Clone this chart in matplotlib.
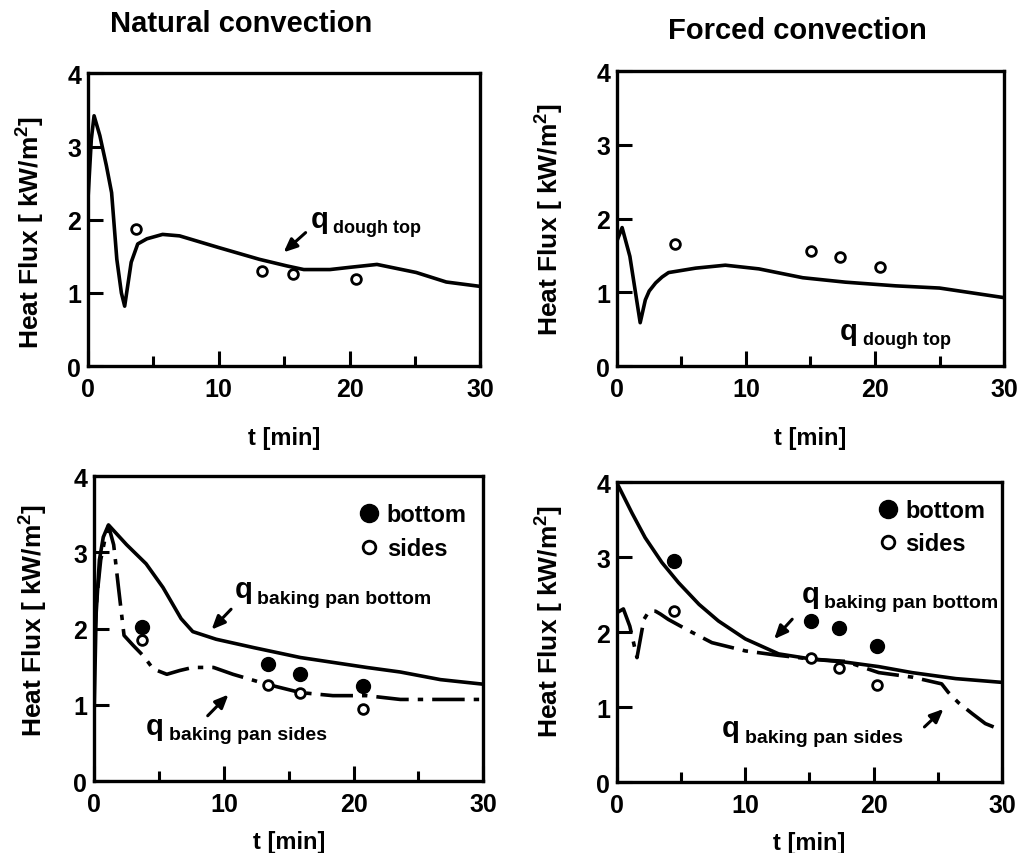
import matplotlib
matplotlib.use("Agg")
import matplotlib.pyplot as plt
from matplotlib.ticker import MultipleLocator

plt.rcParams['font.family'] = ['Liberation Sans', 'DejaVu Sans']
plt.rcParams['font.weight'] = 'bold'
plt.rcParams['mathtext.fontset'] = 'custom'
plt.rcParams['mathtext.bf'] = 'Liberation Sans:bold'
plt.rcParams['mathtext.rm'] = 'Liberation Sans:bold'

# ---- data ----
# Natural convection, dough top
t_nat_top = [0, 0.25, 0.46, 0.9, 1.4, 1.8, 2.2, 2.55, 2.8, 3.3, 3.8, 4.5, 5.7, 7.0, 10, 13.1, 15.2, 16.5, 18.5, 20, 22.1, 25.1, 27.4, 30]
q_nat_top = [2.3, 3.1, 3.42, 3.15, 2.74, 2.37, 1.46, 1.0, 0.82, 1.42, 1.67, 1.74, 1.80, 1.78, 1.62, 1.46, 1.37, 1.32, 1.32, 1.35, 1.39, 1.28, 1.15, 1.09]
t_nat_top_meas = [3.7, 13.3, 15.7, 20.5]
q_nat_top_meas = [1.87, 1.30, 1.26, 1.19]

# Forced convection, dough top
t_for_top = [0, 0.4, 1.0, 1.8, 2.2, 2.5, 3.0, 3.5, 4.0, 6.1, 8.4, 11, 14.4, 17.7, 21.6, 25, 30]
q_for_top = [1.70, 1.88, 1.49, 0.59, 0.90, 1.02, 1.13, 1.21, 1.27, 1.33, 1.37, 1.32, 1.20, 1.14, 1.09, 1.06, 0.93]
t_for_top_meas = [4.5, 15.05, 17.25, 20.4]
q_for_top_meas = [1.66, 1.56, 1.48, 1.35]

# Natural convection, baking pan
t_nat_bot = [0, 0.15, 0.4, 0.7, 1.1, 2.5, 4.0, 5.3, 6.7, 7.6, 9.4, 12.3, 15.9, 21, 23.6, 26.7, 30]
q_nat_bot = [0.95, 2.2, 2.9, 3.2, 3.36, 3.1, 2.85, 2.54, 2.13, 1.96, 1.86, 1.75, 1.62, 1.49, 1.43, 1.33, 1.27]
t_nat_side = [0, 0.2, 0.5, 0.8, 1.1, 1.5, 1.85, 2.3, 3.0, 3.8, 4.55, 5.6, 6.6, 7.6, 9.2, 10.7, 13.3, 15.9, 18.4, 21, 23.6, 30]
q_nat_side = [1.8, 2.4, 2.9, 3.15, 3.35, 3.1, 2.57, 1.91, 1.78, 1.64, 1.47, 1.40, 1.45, 1.49, 1.49, 1.40, 1.27, 1.16, 1.12, 1.12, 1.07, 1.07]
t_nat_meas = [3.65, 13.4, 15.9, 20.7]
q_nat_bot_meas = [2.02, 1.54, 1.41, 1.25]
q_nat_side_meas = [1.85, 1.26, 1.16, 0.95]

# Forced convection, baking pan
t_for_bot = [0, 1.17, 2.2, 3.5, 4.8, 6.4, 7.9, 10, 12.6, 15.2, 17.8, 20.4, 23, 26.4, 30]
q_for_bot = [3.99, 3.59, 3.26, 2.93, 2.66, 2.37, 2.15, 1.91, 1.71, 1.64, 1.60, 1.54, 1.46, 1.38, 1.33]
t_for_side = [0, 0.5, 1.0, 1.56, 2.1, 2.5, 3.0, 3.4, 4.0, 5.6, 7.4, 10, 12.6, 15.2, 17.8, 20.4, 23, 25.3, 25.8, 26.6, 27.7, 28.7, 30]
q_for_side = [2.26, 2.31, 2.08, 1.66, 2.17, 2.28, 2.28, 2.24, 2.17, 2.02, 1.86, 1.75, 1.69, 1.64, 1.61, 1.46, 1.40, 1.31, 1.20, 1.06, 0.91, 0.78, 0.69]
t_for_meas = [4.47, 15.1, 17.3, 20.3]
q_for_bot_meas = [2.95, 2.15, 2.06, 1.81]
q_for_side_meas = [2.28, 1.65, 1.52, 1.29]

x_ticks = [0, 10, 20, 30]
y_ticks = [0, 1, 2, 3, 4]
titles = ["Natural convection", "Forced convection"]
ylabel = r"Heat Flux [ kW/m$^\mathbf{2}$]"
xlabel = "t [min]"

DASHDOT = (0, (9, 2.5, 1.5, 2.5))
LW = 2.6

fig = plt.figure(figsize=(10.24, 8.54), dpi=100)
ax_tl = fig.add_axes([0.086, 0.570, 0.383, 0.343])
ax_tr = fig.add_axes([0.6025, 0.570, 0.378, 0.3454])
ax_bl = fig.add_axes([0.092, 0.0843, 0.380, 0.357])
ax_br = fig.add_axes([0.6025, 0.0831, 0.376, 0.351])


def style(ax, ylab_xy, xlab_pad):
    ax.set_xlim(0, 30)
    ax.set_ylim(0, 4)
    ax.set_xticks(x_ticks)
    ax.set_yticks(y_ticks)
    ax.xaxis.set_minor_locator(MultipleLocator(5))
    ax.tick_params(axis='both', which='major', direction='in', length=11, width=2.2,
                   labelsize=18, top=False, right=False)
    ax.tick_params(axis='x', which='major', pad=8)
    ax.tick_params(axis='y', which='major', pad=5)
    ax.tick_params(axis='x', which='minor', direction='in', length=7, width=2.2, top=False)
    for lab in ax.get_xticklabels() + ax.get_yticklabels():
        lab.set_fontweight('bold')
    for s in ax.spines.values():
        s.set_linewidth(2.4)
    ax.set_xlabel(xlabel, fontsize=17, fontweight='bold', labelpad=xlab_pad)
    ax.set_ylabel(ylabel, fontsize=19, fontweight='bold', va='center')
    ax.yaxis.set_label_coords(*ylab_xy)


def qlabel(ax, x, y, sub, subsize):
    ax.text(x, y, "q", fontsize=21, fontweight='bold', ha='left', va='baseline')
    ax.text(x + 1.75, y - 0.07, sub, fontsize=subsize, fontweight='bold', ha='left', va='baseline')


def arrow(ax, xy_tail, xy_head):
    ax.annotate("", xy=xy_head, xytext=xy_tail,
                arrowprops=dict(arrowstyle='-|>,head_length=0.8,head_width=0.35',
                                lw=2.2, color='black'))


open_kw = dict(marker='o', ms=7, mfc='white', mec='black', mew=2.0, ls='none')
fill_kw = dict(marker='o', ms=10, mfc='black', mec='black', ls='none')

# Top left
style(ax_tl, (-0.148, 0.46), 18)
ax_tl.plot(t_nat_top, q_nat_top, color='black', lw=LW)
ax_tl.plot(t_nat_top_meas, q_nat_top_meas, **open_kw)
qlabel(ax_tl, 17.0, 1.90, "dough top", 13)
arrow(ax_tl, (16.8, 1.85), (14.8, 1.53))

# Top right
style(ax_tr, (-0.176, 0.50), 18)
ax_tr.plot(t_for_top, q_for_top, color='black', lw=LW)
ax_tr.plot(t_for_top_meas, q_for_top_meas, **open_kw)
qlabel(ax_tr, 17.3, 0.37, "dough top", 13)

# Bottom left
style(ax_bl, (-0.159, 0.53), 10)
ax_bl.plot(t_nat_bot, q_nat_bot, color='black', lw=LW)
ax_bl.plot(t_nat_side, q_nat_side, color='black', lw=LW, ls=DASHDOT)
ax_bl.plot(t_nat_meas, q_nat_bot_meas, label='bottom', **fill_kw)
ax_bl.plot(t_nat_meas, q_nat_side_meas, label='sides', **open_kw)
qlabel(ax_bl, 10.8, 2.41, "baking pan bottom", 14)
arrow(ax_bl, (10.7, 2.28), (8.9, 1.96))
qlabel(ax_bl, 4.0, 0.62, "baking pan sides", 14)
arrow(ax_bl, (8.6, 0.83), (10.5, 1.16))
ax_bl.legend(loc='upper right', bbox_to_anchor=(1.0, 0.965), frameon=False,
             prop=dict(size=17, weight='bold'),
             handletextpad=0.25, borderaxespad=0.3, labelspacing=0.45, markerscale=1.3,
             handlelength=1.0)

# Bottom right
style(ax_br, (-0.177, 0.54), 10)
ax_br.plot(t_for_bot, q_for_bot, color='black', lw=LW)
ax_br.plot(t_for_side, q_for_side, color='black', lw=LW, ls=DASHDOT)
ax_br.plot(t_for_meas, q_for_bot_meas, label='bottom', **fill_kw)
ax_br.plot(t_for_meas, q_for_side_meas, label='sides', **open_kw)
qlabel(ax_br, 14.4, 2.40, "baking pan bottom", 14)
arrow(ax_br, (13.8, 2.20), (12.1, 1.88))
qlabel(ax_br, 8.2, 0.61, "baking pan sides", 14)
arrow(ax_br, (23.8, 0.71), (25.6, 1.0))
ax_br.legend(loc='upper right', bbox_to_anchor=(1.0, 1.0), frameon=False,
             prop=dict(size=17, weight='bold'),
             handletextpad=0.25, borderaxespad=0.3, labelspacing=0.45, markerscale=1.3,
             handlelength=1.0)

fig.text(241 / 1024, 1 - 24 / 854, titles[0], fontsize=21, fontweight='bold',
         ha='center', va='center')
fig.text(797 / 1024, 1 - 31 / 854, titles[1], fontsize=21, fontweight='bold',
         ha='center', va='center')

fig.savefig("out.png", dpi=100)
